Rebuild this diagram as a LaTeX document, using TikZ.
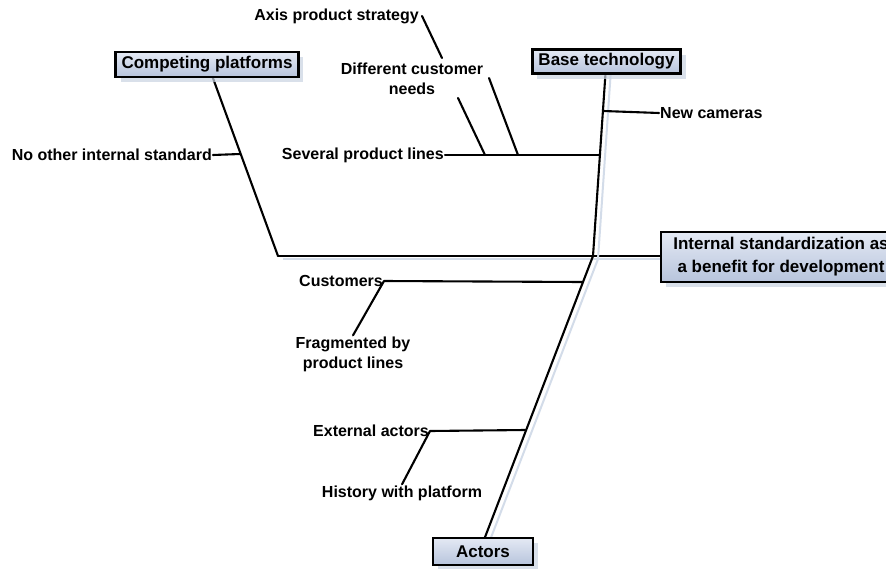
\documentclass[tikz,border=0pt]{standalone}
\usepackage{fontspec}
\setmainfont{Liberation Sans}
\usetikzlibrary{shadows,calc}
\definecolor{boxtop}{HTML}{E4E9F4}
\definecolor{boxbot}{HTML}{B7C4DC}
\definecolor{shadowc}{HTML}{C9D3E2}
\definecolor{lineshadow}{HTML}{D3DCE9}
\tikzset{
  causebox/.style={draw=black, line width=2.3pt, top color=boxtop, bottom color=boxbot,
    inner xsep=6pt, inner ysep=1pt, minimum height=25pt,
    font=\fontsize{17}{22}\selectfont\bfseries,
    drop shadow={shadow xshift=5pt, shadow yshift=-5pt, fill=shadowc, opacity=0.7}},
  lbl/.style={inner sep=1pt, font=\fontsize{16}{20}\selectfont\bfseries, align=center},
  twig/.style={line width=2.1pt, line cap=round, line join=round},
  bone/.style={twig,
    preaction={draw=lineshadow, line width=2pt, transform canvas={shift={(5pt,-3pt)}}}}
}
\begin{document}
\begin{tikzpicture}[x=1pt, y=-1pt]
\clip (0,0) rectangle (886,568);
\fill[white] (0,0) rectangle (886,568);

% junction points on the bones
\coordinate (tail) at (278,256);
\coordinate (j0) at (593,256);
\coordinate (jnc) at (603.3,111);
\coordinate (jspl) at (600,155);
\coordinate (jd1) at (485,155);
\coordinate (jd2) at (518,155);
\coordinate (d1) at (458,98);
\coordinate (d2) at (489,78);
\coordinate (aps1) at (422,16);
\coordinate (aps2) at (442,58);
\coordinate (jnois) at (240,154);
\coordinate (jcu) at (583,282);
\coordinate (jex) at (525,430);

% main spine and category bones (drawn first, boxes on top)
\draw[bone] (tail) -- (670,256);
\draw[twig] (210,70) -- (tail);
\draw[bone] (606,66) -- (j0) -- (482,545);

% category boxes
\node[causebox] (cp) at (207,64.5) {Competing platforms};
\node[causebox, minimum height=24pt] (bt) at (606.5,61.5) {Base technology};
\node[causebox, minimum height=50pt, minimum width=240pt, align=center,
      font=\fontsize{17}{23}\selectfont\bfseries] (isd) at (781,257)
      {Internal standardization as\\a benefit for development};
\node[causebox, minimum width=100pt, minimum height=27pt] (act) at (483,551.5) {Actors};

% labels
\node[lbl, anchor=east] (nois) at (213,155) {No other internal standard};
\node[lbl, anchor=east] (spl) at (445,155) {Several product lines};
\node[lbl, anchor=west] (nc) at (659,113) {New cameras};
\node[lbl] (dcn) at (412,79) {Different customer\\needs};
\node[lbl, anchor=east] (aps) at (420,16) {Axis product strategy};
\node[lbl, anchor=east] (cust) at (384,281) {Customers};
\node[lbl] (frag) at (353,354) {Fragmented by\\product lines};
\node[lbl, anchor=east] (ext) at (430,431) {External actors};
\node[lbl] (hist) at (402,493) {History with platform};

% sub-causes
\draw[twig] (jnois) -- (nois.east);
\draw[twig] (jnc) -- (nc.west);
\draw[twig] (jspl) -- (spl.east);
\draw[twig] (jd1) -- (d1);
\draw[twig] (jd2) -- (d2);
\draw[twig] (aps1) -- (aps2);
\draw[twig] (jcu) -- (cust.east) -- (frag.north);
\draw[twig] (jex) -- (ext.east) -- (hist.north);
\end{tikzpicture}
\end{document}
